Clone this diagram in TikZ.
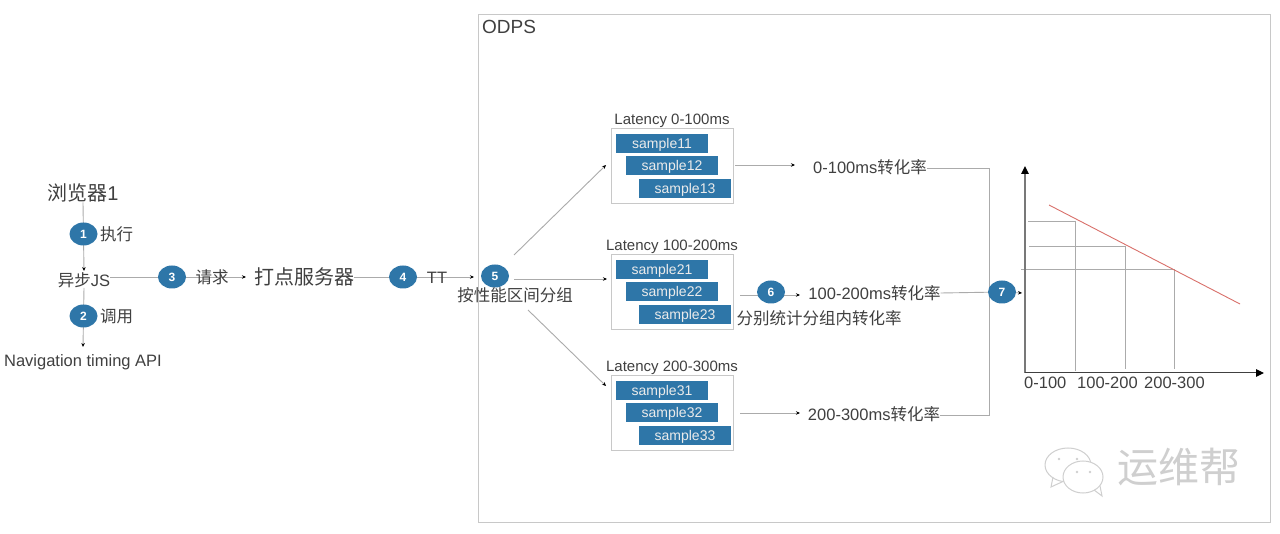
\documentclass[tikz,border=0pt]{standalone}
\usepackage{fontspec}
\setmainfont{Liberation Sans}
\newfontfamily\cjk{Noto Sans CJK SC}
\usetikzlibrary{arrows.meta,backgrounds,shapes.geometric}
\definecolor{bubbleblue}{HTML}{2E76A8}
\definecolor{linegray}{HTML}{ABABAB}
\definecolor{framegray}{HTML}{C8C8C8}
\definecolor{ink}{HTML}{404040}
\definecolor{markgray}{HTML}{CFCFCF}
\definecolor{redline}{HTML}{D9706A}
\newcommand{\zh}[1]{{\cjk #1}}
\tikzset{
  flow/.style={-{Stealth[length=4pt,width=3.5pt,color=black]},draw=linegray,line width=.9pt},
  plain/.style={draw=linegray,line width=.9pt},
  bubble/.style={ellipse,fill=bubbleblue,text=white,minimum width=28pt,minimum height=23pt,
    inner sep=0pt,font=\fontsize{12}{14}\selectfont\bfseries},
  label/.style={inner sep=0pt,text=ink,font=\fontsize{16.5}{20}\selectfont},
  biglabel/.style={label,font=\fontsize{20}{24}\selectfont},
  titlelabel/.style={label,font=\fontsize{15}{18}\selectfont},
  groupbox/.style={draw=framegray,line width=.9pt,fill=white,minimum width=122pt,minimum height=75pt,inner sep=0pt},
  samplebox/.style={fill=bubbleblue,text=white!92!black,minimum width=92pt,minimum height=19pt,
    inner sep=0pt,text depth=0pt,font=\fontsize{14}{16}\selectfont},
}
\begin{document}
\begin{tikzpicture}[x=1pt,y=-1pt]
\begin{pgfonlayer}{background}
\path[use as bounding box,fill=white] (0,0) rectangle (1280,534);
\end{pgfonlayer}

\node[draw=framegray,line width=.9pt,minimum width=792pt,minimum height=508pt,inner sep=0pt] (odps) at (874,268) {};
\node[label,font=\fontsize{19}{22}\selectfont,anchor=west] (odpstitle) at (482,27) {ODPS};

% browser side
\node[biglabel] (browser) at (83,193) {\zh{浏览器}1};
\node[label] (asyncjs) at (84,280) {\zh{异步}JS};
\node[label] (navapi) at (83,362) {Navigation timing API};
\node[bubble] (b1) at (83.5,234) {1};
\node[label,anchor=west] (runlabel) at (100,234) {\zh{执行}};
\node[bubble] (b2) at (83.5,316) {2};
\node[label,anchor=west] (calllabel) at (100,316) {\zh{调用}};

\node[biglabel] (server) at (304,277) {\zh{打点服务器}};
\node[bubble] (b3) at (172,277) {3};
\node[label] (reqlabel) at (212,277) {\zh{请求}};
\node[bubble] (b4) at (403,277) {4};
\node[label] (ttlabel) at (437,278) {TT};
\node[bubble] (b5) at (495,276) {5};
\node[label] (grouplabel) at (515,295) {\zh{按性能区间分组}};
\coordinate (serverin) at (246,277);
\coordinate (ttend) at (474,277);

% latency groups
\foreach \row/\ypos/\range in {1/165.5/0-100ms,2/291.5/100-200ms,3/412.5/200-300ms}{
  \node[groupbox] (lat\row) at (672,\ypos) {};
  \node[titlelabel] (title\row) at (672,\ypos-45) {Latency \range};
  \node[samplebox] (s\row1) at (662,\ypos-22) {sample\row1};
  \node[samplebox] (s\row2) at (672,\ypos) {sample\row2};
  \node[samplebox] (s\row3) at (685,\ypos+23) {sample\row3};
}
\coordinate (from5a) at (514,255);
\coordinate (to5a) at (606,165);
\coordinate (from5b) at (514,279);
\coordinate (to5b) at (607,279);
\coordinate (from5c) at (528,310);
\coordinate (to5c) at (606,386);

% rates
\node[label] (rate1) at (870,167) {0-100ms\zh{转化率}};
\node[label] (rate2) at (874.5,293) {100-200ms\zh{转化率}};
\node[label] (rate3) at (874,414) {200-300ms\zh{转化率}};
\node[bubble] (b6) at (771,292) {6};
\node[label] (statlabel) at (819,318) {\zh{分别统计分组内转化率}};
\node[bubble] (b7) at (1002,292) {7};
\coordinate (out1) at (735,165);
\coordinate (in1) at (795,165);
\coordinate (out2) at (740,295);
\coordinate (in2) at (800,295);
\coordinate (out3) at (740,413);
\coordinate (in3) at (800,413);
\coordinate (bustop) at (989,168);
\coordinate (busbot) at (989,415);
\coordinate (chartin) at (1022,293);

% chart
\coordinate (origin) at (1025,373);
\coordinate (ytop) at (1025,166);
\coordinate (xend) at (1264,373);
\coordinate (bar1) at (1075,221);
\coordinate (bar2) at (1125,246.5);
\coordinate (bar3) at (1174,269);
\node[label,anchor=west] (tick1) at (1024,383) {0-100};
\node[label,anchor=west] (tick2) at (1077,383) {100-200};
\node[label,anchor=west] (tick3) at (1144,383) {200-300};

\begin{pgfonlayer}{background}
\draw[flow] (browser.south) -- (84,271);
\draw[flow] (asyncjs.south) -- (83,347);
\draw[flow] (asyncjs.east |- server.west) -- (serverin);
\draw[flow] (server.east) -- (ttend);
\draw[flow] (from5a) -- (to5a);
\draw[flow] (from5b) -- (to5b);
\draw[flow] (from5c) -- (to5c);
\draw[flow] (out1) -- (in1);
\draw[flow] (out2) -- (in2);
\draw[flow] (out3) -- (in3);
\draw[plain] (rate1.east |- bustop) -- (bustop) -- (busbot) -- (rate3.east |- busbot);
\draw[plain] (rate2.east) -- (b7);
\draw[flow] (b7) -- (chartin);
\end{pgfonlayer}

\draw[plain] (1028,221) -- (bar1) -- (1075,371);
\draw[plain] (1029,246.5) -- (bar2) -- (1125,369);
\draw[plain] (1021,269) -- (bar3) -- (1174,369);
\draw[redline,line width=.9pt] (1049,205) -- (1240,304);
\draw[-{Triangle[length=8pt,width=7.5pt,color=black]},draw=linegray!70!black,line width=1.3pt] (origin) -- (ytop);
\draw[-{Triangle[length=8pt,width=7.5pt,color=black]},draw=ink,line width=1pt] (origin) -- (xend);

% watermark
\begin{scope}[draw=markgray,line width=1pt,fill=white]
  \filldraw (1068,465) ellipse (23 and 17);
  \draw (1053,477) -- (1051,487) -- (1064,481);
  \filldraw (1083,477) ellipse (20 and 16);
  \draw (1094,490) -- (1102,496) -- (1100,486);
  \fill[markgray] (1059,459) circle (1.3) (1077,459) circle (1.3) (1077,472) circle (1.3) (1090,472) circle (1.3);
\end{scope}
\node[inner sep=0pt,text=markgray,font=\fontsize{41}{45}\selectfont] (markname) at (1178.5,467) {\zh{运维帮}};
\end{tikzpicture}
\end{document}
